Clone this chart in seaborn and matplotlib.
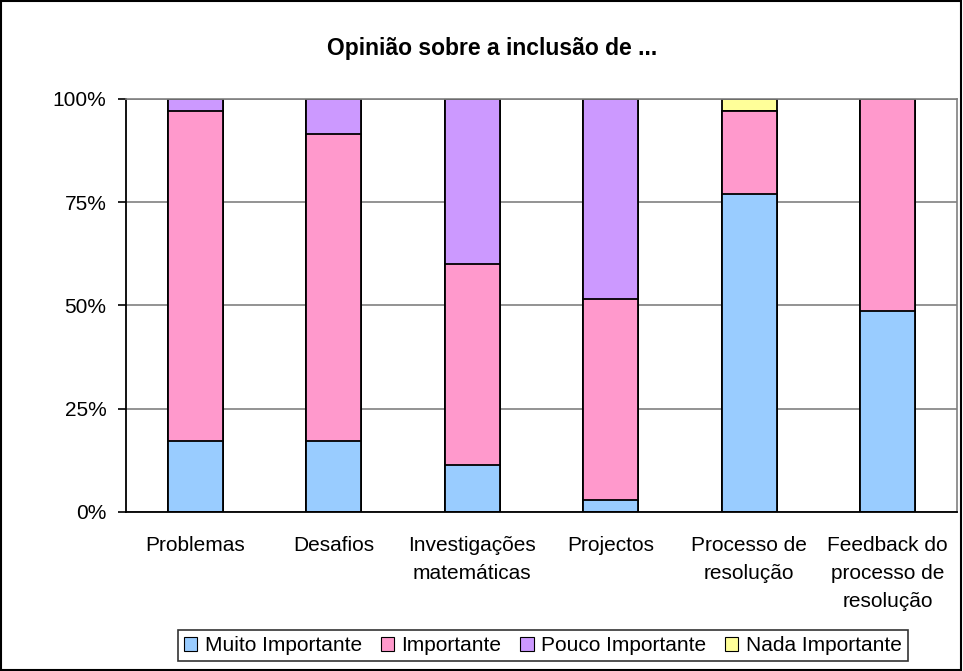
import pandas as pd
import matplotlib.pyplot as plt
import seaborn as sns
from matplotlib.patches import Rectangle, Patch

categories = ['Problemas', 'Desafios', 'Investigações\nmatemáticas', 'Projectos',
              'Processo de\nresolução', 'Feedback do\nprocesso de\nresolução']
levels = ['Muito Importante', 'Importante', 'Pouco Importante', 'Nada Importante']
muito = [17.1, 17.1, 11.4, 2.9, 77.1, 48.6]
importante = [80.0, 74.3, 48.6, 48.6, 20.0, 51.4]
pouco = [2.9, 8.6, 40.0, 48.5, 0.0, 0.0]
nada = [0.0, 0.0, 0.0, 0.0, 2.9, 0.0]
colors = ['#99CCFF', '#FF99CC', '#CC99FF', '#FFFF99']

df = pd.DataFrame({'cat': categories, 'Muito Importante': muito, 'Importante': importante,
                   'Pouco Importante': pouco, 'Nada Importante': nada})
cum = df[levels].cumsum(axis=1)
cum['cat'] = df['cat']

sns.set_style('white')
plt.rcParams['font.family'] = ['Liberation Sans', 'DejaVu Sans']
plt.rcParams['text.color'] = 'black'
plt.rcParams['xtick.color'] = 'black'
plt.rcParams['ytick.color'] = 'black'
plt.rcParams['xtick.labelcolor'] = 'black'
plt.rcParams['ytick.labelcolor'] = 'black'

fig = plt.figure(figsize=(9.63, 6.71), dpi=100)
ax = fig.add_axes([0.1308, 0.237, 0.8630, 0.6155])

# draw cumulative layers from the top down so the lower ones sit over them
for level, color in reversed(list(zip(levels, colors))):
    sns.barplot(data=cum, x='cat', y=level, color=color, edgecolor='black',
                linewidth=1.3, width=0.4, ax=ax, saturation=1)

ax.set_ylim(0, 100)
ax.set_xlim(-0.5, len(categories) - 0.5)
ax.set_yticks([0, 25, 50, 75, 100])
ax.set_yticklabels(['0%', '25%', '50%', '75%', '100%'], fontsize=15)
ax.set_xticks(range(len(categories)))
ax.set_xticklabels(categories, fontsize=15, linespacing=1.6)
ax.set_xticks([i - 0.5 for i in range(len(categories) + 1)], minor=True)
ax.tick_params(axis='x', which='major', length=0, pad=17)
ax.tick_params(axis='x', which='minor', length=6, width=1.2, color='black', direction='out')
ax.tick_params(axis='y', length=6, width=1.2, color='black', direction='out', left=True, pad=8)
ax.set_xlabel('')
ax.set_ylabel('')
ax.yaxis.grid(True, color='#808080', linewidth=1.2)
ax.set_axisbelow(True)
for s in ['top', 'right']:
    ax.spines[s].set_color('#808080')
    ax.spines[s].set_linewidth(1.2)
for s in ['left', 'bottom']:
    ax.spines[s].set_color('black')
    ax.spines[s].set_linewidth(1.3)

fig.text(0.511, 0.928, 'Opinião sobre a inclusão de ...', ha='center', va='center',
         fontsize=16.5, fontweight='bold', color='black')

handles = [Patch(facecolor=c, edgecolor='black', linewidth=0.8) for c in colors]
leg = fig.legend(handles, levels, loc='center', bbox_to_anchor=(0.5635, 0.038), ncol=4,
                 fontsize=15, frameon=True, fancybox=False, edgecolor='black',
                 handlelength=0.65, handleheight=0.65, handletextpad=0.35, columnspacing=0.9,
                 borderpad=0.3, borderaxespad=0)
leg.get_frame().set_linewidth(1.2)
for t in leg.get_texts():
    t.set_color('black')

fig.patches.append(Rectangle((0.001, 0.002), 0.997, 0.996, transform=fig.transFigure,
                             fill=False, edgecolor='black', linewidth=1.5))

fig.savefig('out.png', dpi=100)
